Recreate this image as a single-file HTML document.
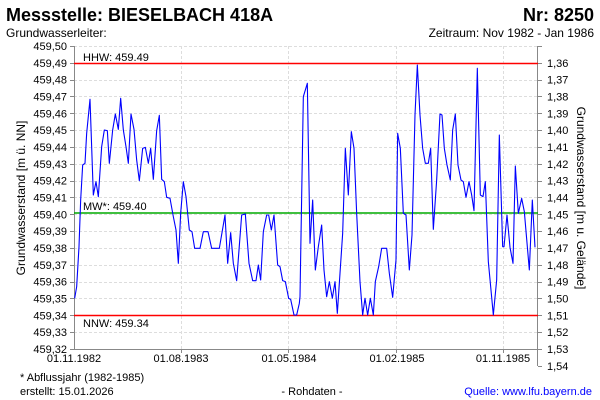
<!DOCTYPE html>
<html><head><meta charset="utf-8"><style>
body{margin:0;background:#fff;}
svg{display:block;font-family:"Liberation Sans",Arial,sans-serif;}
</style></head><body>
<svg id="s" width="600" height="400" viewBox="0 0 600 400" xmlns="http://www.w3.org/2000/svg">
<rect width="600" height="400" fill="#fff"/>
<text x="6" y="21" font-size="18" font-weight="bold">Messstelle: BIESELBACH 418A</text>
<text x="594" y="21" font-size="18" font-weight="bold" text-anchor="end">Nr: 8250</text>
<text x="6" y="37" font-size="12">Grundwasserleiter:</text>
<text x="594" y="37" font-size="12" text-anchor="end">Zeitraum: Nov 1982 - Jan 1986</text>
<g id="grid"></g>
<line x1="74.5" y1="46" x2="74.5" y2="350" stroke="#888"/>
<line x1="537.5" y1="46" x2="537.5" y2="366" stroke="#888"/>
<line x1="74" y1="349.5" x2="538" y2="349.5" stroke="#888"/>
<line x1="74" y1="63.5" x2="538" y2="63.5" stroke="#f00" stroke-width="1.5"/>
<line x1="74" y1="213" x2="538" y2="213" stroke="#0a0" stroke-width="1.5"/>
<line x1="74" y1="315.5" x2="538" y2="315.5" stroke="#f00" stroke-width="1.5"/>
<text x="83" y="61" font-size="11">HHW: 459.49</text>
<text x="83" y="210" font-size="11">MW*: 459.40</text>
<text x="83" y="327" font-size="11">NNW: 459.34</text>
<g transform="translate(60 40) scale(0.33333)"><polyline id="p" fill="none" stroke="#00f" stroke-width="3.3" stroke-linejoin="round"/></g>
<text transform="translate(25 198) rotate(-90)" font-size="12" text-anchor="middle">Grundwasserstand [m ü. NN]</text>
<text transform="translate(577 198) rotate(90)" font-size="12" text-anchor="middle">Grundwasserstand [m u. Gelände]</text>
<g font-size="11" text-anchor="middle">
<text x="74" y="362">01.11.1982</text><text x="181" y="362">01.08.1983</text><text x="289" y="362">01.05.1984</text><text x="397" y="362">01.02.1985</text><text x="503" y="362">01.11.1985</text>
</g>
<text x="20" y="381" font-size="11">* Abflussjahr (1982-1985)</text>
<text x="20" y="395" font-size="11">erstellt:  15.01.2026</text>
<text x="312" y="395" font-size="11" text-anchor="middle">- Rohdaten -</text>
<text x="592" y="395" font-size="11" text-anchor="end" fill="#00f">Quelle: www.lfu.bayern.de</text>
</svg>
<script>
var g=document.getElementById('grid'),h='';
for(var i=0;i<=18;i++){var y=46+i*16.83;var yy=Math.round(y)+0.5;
h+='<line x1="74" y1="'+yy+'" x2="538" y2="'+yy+'" stroke="#ddd" stroke-dasharray="3,2"/>';
h+='<line x1="70" y1="'+yy+'" x2="74" y2="'+yy+'" stroke="#888"/><line x1="538" y1="'+yy+'" x2="542" y2="'+yy+'" stroke="#888"/>';
h+='<text x="67" y="'+(y+4)+'" font-size="11" text-anchor="end">'+(459.5-i*0.01).toFixed(2).replace('.',',')+'</text>';
if(i>0)h+='<text x="547" y="'+(y+4)+'" font-size="11">'+(1.35+i*0.01).toFixed(2).replace('.',',')+'</text>';}
h+='<line x1="538" y1="366.5" x2="542" y2="366.5" stroke="#888"/><text x="547" y="370" font-size="11">1,54</text>';
[181.5,288.5,396.5,503.5].forEach(function(x){h+='<line x1="'+x+'" y1="46" x2="'+x+'" y2="349" stroke="#ddd" stroke-dasharray="3,2"/><line x1="'+x+'" y1="349" x2="'+x+'" y2="353" stroke="#888"/>';});
g.innerHTML=h;
var a=[[44,775],[50,740],[57,620],[62,480],[68,375],[75,370],[80,280],[90,178],[100,465],[108,425],[115,470],[125,320],[133,270],[142,272],[148,370],[158,270],[166,222],[175,268],[182,175],[190,270],[198,320],[205,370],[213,222],[222,268],[230,360],[238,422],[248,325],[256,322],[265,370],[272,325],[280,418],[290,272],[298,226],[305,418],[313,425],[320,472],[330,475],[340,530],[348,570],[355,670],[362,520],[370,425],[378,470],[388,570],[396,575],[404,625],[420,625],[430,575],[444,575],[455,625],[478,625],[495,525],[503,670],[512,578],[520,670],[530,722],[545,525],[556,522],[567,670],[578,722],[588,722],[595,675],[602,720],[610,575],[620,525],[626,525],[634,570],[642,525],[653,675],[660,680],[668,722],[676,725],[686,775],[692,778],[702,825],[710,825],[718,790]];
var b=[[0,770],[10,170],[22,130],[30,610],[38,480],[46,690],[55,620],[65,555],[72,690],[80,770],[88,725],[97,775],[105,725],[112,820],[120,700],[128,580],[136,325],[145,465],[154,275],[162,325],[170,520],[180,725],[188,825],[195,775],[203,825],[211,775],[220,825],[226,725],[236,680],[245,625],[260,625],[268,700],[278,772],[288,660],[293,280],[301,325],[310,520],[318,525],[328,690],[336,585],[345,225],[352,75],[360,225],[368,325],[376,370],[385,370],[392,325],[400,568],[410,420],[420,222],[426,225],[433,325],[441,375],[451,420],[458,270],[466,222],[474,375],[483,420],[490,425],[498,472],[507,425],[515,465],[522,512],[532,85],[541,465],[549,470],[556,425],[565,665],[580,825],[590,720],[598,285],[608,620],[612,620],[621,525],[630,622],[639,670],[646,378],[655,520],[665,475],[673,515],[688,690],[697,480],[705,622]];
var pts=a.map(function(p){return p.join(',')});b.forEach(function(p){pts.push((p[0]+720)+','+p[1]);});
document.getElementById('p').setAttribute('points',pts.join(' '));
</script>
</body></html>
